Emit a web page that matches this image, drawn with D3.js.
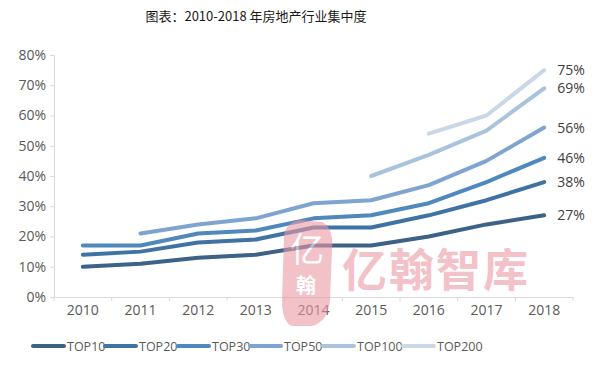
<!DOCTYPE html>
<html><head><meta charset="utf-8">
<script src="https://cdn.jsdelivr.net/npm/d3@7"></script>
<style>body{margin:0;background:#fff}svg{display:block}</style>
</head><body>
<svg id="c" width="608" height="370"></svg>
<script>
const title = "图表：2010-2018 年房地产行业集中度";
const years = ["2010","2011","2012","2013","2014","2015","2016","2017","2018"];
const yTicks = [0,10,20,30,40,50,60,70,80];
const seriesNames = ["TOP10","TOP20","TOP30","TOP50","TOP100","TOP200"];
const top10 = [10,11,13,14,17,17,20,24,27];
const top20 = [14,15,18,19,23,23,27,32,38];
const top30 = [17,17,21,22,26,27,31,38,46];
const top50 = [null,21,24,26,31,32,37,45,56];
const top100 = [null,null,null,null,null,40,47,55,69];
const top200 = [null,null,null,null,null,null,54,60,75];
const seriesValues = [top10,top20,top30,top50,top100,top200];
const colors = ["#3D6287","#3E73A3","#4F88BC","#7EA4CF","#AAC3DC","#CAD7E6"];
const watermark = "亿翰智库";

const svg = d3.select("#c");
const mLeft = 54, mRight = 573, mTop = 55, mBottom = 297;
const x = d3.scaleBand().domain(years).range([mLeft, mRight]).padding(0);
const y = d3.scaleLinear().domain([0,80]).range([mBottom, mTop]);
const cjk = "'Noto Sans CJK SC',sans-serif";
const lat = "'Open Sans','Noto Sans',sans-serif";

svg.append("text").attr("x",256).attr("y",21).attr("text-anchor","middle")
  .attr("font-family",cjk).attr("font-size",13).attr("fill","#1a1a1a").text(title);

// y axis
const ya = svg.append("g").attr("transform",`translate(${mLeft},0)`)
  .call(d3.axisLeft(y).tickValues(yTicks).tickSize(4).tickFormat(d=>d+"%"));
ya.select(".domain").attr("stroke","#d9d9d9");
ya.selectAll(".tick line").attr("stroke","#d9d9d9");
ya.selectAll("text").attr("font-family",lat).attr("font-size",14).attr("fill","#595959").attr("x",-8);

// x axis
const xa = svg.append("g").attr("transform",`translate(0,${mBottom})`)
  .call(d3.axisBottom(x).tickSize(0).tickSizeOuter(0));
xa.select(".domain").attr("stroke","#d9d9d9");
xa.selectAll("text").attr("font-family",lat).attr("font-size",14).attr("fill","#595959").attr("dy","1.05em");
const bounds = years.map(d=>x(d)).concat([mRight]);
xa.selectAll(".bt").data(bounds).enter().append("line").attr("class","bt")
  .attr("x1",d=>d).attr("x2",d=>d).attr("y1",0).attr("y2",4).attr("stroke","#d9d9d9");

const cx = d => x(d) + x.bandwidth()/2;
const line = d3.line().defined(d=>d.v!=null).x(d=>cx(d.yr)).y(d=>y(d.v));

seriesValues.forEach((vals,i)=>{
  const pts = vals.map((v,j)=>({yr:years[j], v}));
  svg.append("path").datum(pts).attr("d",line).attr("fill","none")
    .attr("stroke",colors[i]).attr("stroke-width",4).attr("stroke-linecap","round").attr("stroke-linejoin","round");
  const last = pts[pts.length-1];
  svg.append("text").attr("x",cx(last.yr)+13).attr("y",y(last.v)+5)
    .attr("font-family",lat).attr("font-size",14).attr("fill","#404040").text(last.v+"%");
});

// watermark
const wm = svg.append("g").attr("opacity",0.6);
wm.append("path").attr("d","M284,236 Q286,222 300,220 L322,222 Q334,228 332,250 L330,300 Q328,322 312,326 L292,326 Q282,322 282,300 Z")
  .attr("fill","#EC98A5");
wm.append("text").attr("x",307).attr("y",262).attr("text-anchor","middle").attr("font-family",cjk)
  .attr("font-size",34).attr("fill","#fff").text("亿");
wm.append("text").attr("x",306).attr("y",293).attr("text-anchor","middle").attr("font-family",cjk)
  .attr("font-size",20).attr("font-weight","bold").attr("fill","#fff").text("翰");
wm.append("text").attr("x",342).attr("y",287).attr("font-family",cjk).attr("font-size",45)
  .attr("font-weight","bold").attr("fill","#EC98A5").attr("letter-spacing",2).text(watermark);

// legend
const lg = svg.append("g");
const lx = [33,105,178,250,323,403];
seriesNames.forEach((n,i)=>{
  lg.append("line").attr("x1",lx[i]).attr("x2",lx[i]+31).attr("y1",346).attr("y2",346)
    .attr("stroke",colors[i]).attr("stroke-width",4).attr("stroke-linecap","round");
  lg.append("text").attr("x",lx[i]+34).attr("y",350.5).attr("font-family",lat)
    .attr("font-size",12.5).attr("fill","#595959").text(n);
});
</script>
</body></html>
